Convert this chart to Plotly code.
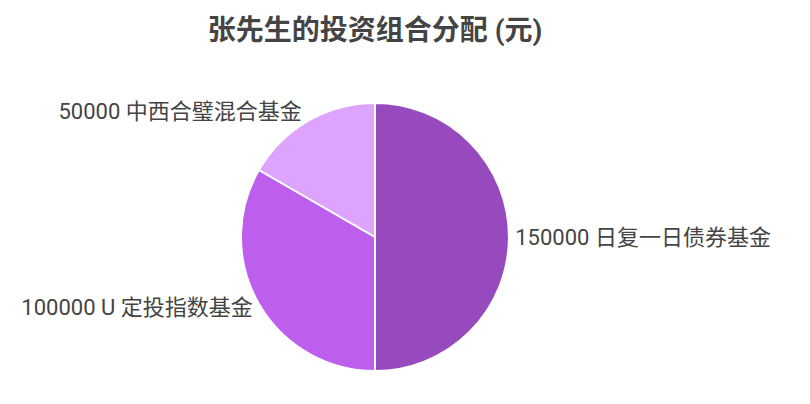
import plotly.graph_objects as go

labels = ['日复一日债券基金', 'U 定投指数基金', '中西合璧混合基金']
values = [150000, 100000, 50000]
colors = ['#964abd', '#bd5fec', '#dea3ff']
title = '张先生的投资组合分配 (元)'

W, H = 810, 404
# page body adds 8px offset, so aim 8px up/left of the target positions
cx, cy, r = 375 - 8, 237 - 8, 134

fig = go.Figure(go.Pie(
    labels=labels,
    values=values,
    sort=False,
    direction='clockwise',
    rotation=0,
    marker=dict(colors=colors, line=dict(color='white', width=2)),
    textposition='outside',
    texttemplate='%{value:d} %{label}',
    textfont=dict(size=22, color='#444444'),
    showlegend=False,
    hoverinfo='label+value',
    domain=dict(x=[(cx - r) / W, (cx + r) / W], y=[(H - cy - r) / H, (H - cy + r) / H]),
))

fig.update_layout(
    width=W, height=H,
    margin=dict(l=0, r=0, t=0, b=0),
    paper_bgcolor='white',
    font=dict(family='Roboto, Noto Sans CJK SC, sans-serif', color='#444444'),
    title=dict(text='<b>' + title + '</b>', x=cx / W, xanchor='center', y=1 - 22 / H, yanchor='middle',
               font=dict(size=28, color='#444444')),
)

fig.write_html('out.html')
